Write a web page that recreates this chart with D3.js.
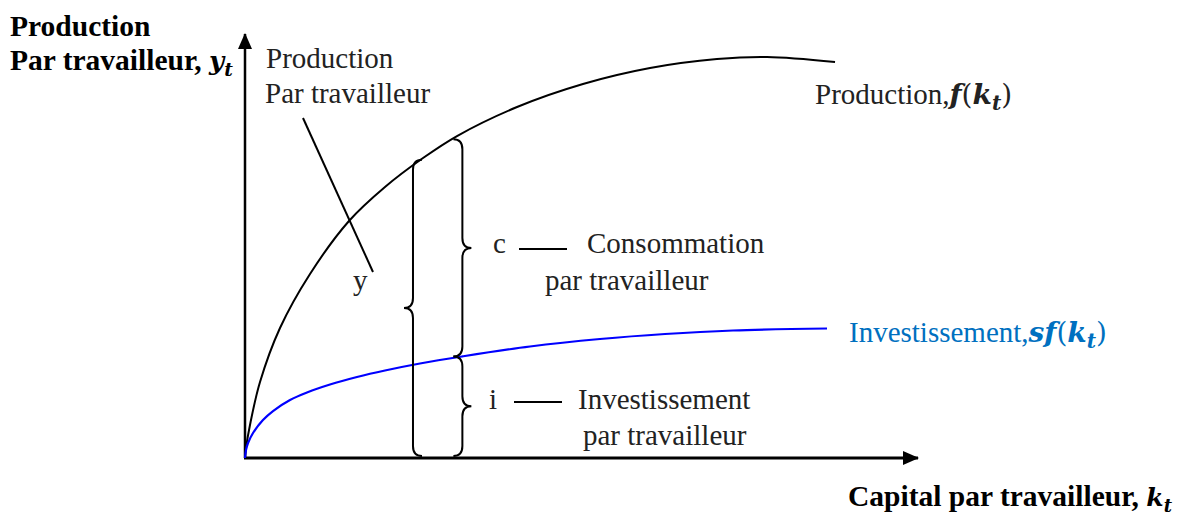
<!DOCTYPE html>
<html>
<head>
<meta charset="utf-8">
<script src="https://cdn.jsdelivr.net/npm/d3@7"></script>
<style>
  body { margin: 0; background: #fff; }
  svg text { font-family: "Liberation Serif", "Times New Roman", serif; }
</style>
</head>
<body>
<svg id="chart" width="1177" height="522"></svg>
<script>
// Production par travailleur f(k) (k and y in 0..100 units)
const prodK = [0, 0.15, 0.74, 2.23, 5.20, 9.66, 15.45, 20.80, 26.45, 31.50, 40.42, 50.22, 60.18, 70.13, 77.56, 87.67];
const prodY = [0, 2.36, 7.78, 17.92, 30.66, 43.40, 55.90, 63.92, 70.75, 75.94, 82.78, 88.21, 91.98, 94.10, 94.58, 93.40];

// Investissement sf(k)
const invK = [0, 0.15, 0.45, 1.19, 2.67, 4.16, 6.69, 9.21, 12.63, 16.64, 20.80, 26.00, 32.24, 42.35, 52.75, 62.41, 72.51, 86.48];
const invY = [0, 1.89, 3.54, 5.90, 8.96, 11.08, 13.68, 15.45, 17.33, 19.10, 20.64, 22.29, 23.94, 26.30, 28.07, 29.25, 30.07, 30.54];

// where the braces stand (k of the spine)
const braceYK = 24.96;  // y  (whole production)
const braceCIK = 32.3;  // c and i

const mathFont = "DejaVu Serif";

let svg = d3.select("#chart");

let xScale = d3.scaleLinear().domain([0, 100]).range([245, 918]);
let yScale = d3.scaleLinear().domain([0, 100]).range([458, 34]);

// linear lookup in a curve
function valueAt(ks, ys, k) {
    let i = d3.bisectLeft(ks, k);
    if (ks[i] === k) return ys[i];
    let t = (k - ks[i - 1]) / (ks[i] - ks[i - 1]);
    return ys[i - 1] + t * (ys[i] - ys[i - 1]);
}

// arrow heads
let defs = svg.append("defs");
defs.append("marker")
    .attr("id", "arrow")
    .attr("viewBox", "0 0 16 14")
    .attr("refX", 15)
    .attr("refY", 7)
    .attr("markerUnits", "userSpaceOnUse")
    .attr("markerWidth", 16)
    .attr("markerHeight", 14)
    .attr("orient", "auto")
    .append("path")
    .attr("d", "M0,0 L16,7 L0,14 Z")
    .attr("fill", "#000");

// axes
svg.append("line")
    .attr("x1", xScale(0)).attr("y1", yScale(0))
    .attr("x2", xScale(0)).attr("y2", yScale(100))
    .attr("stroke", "#000").attr("stroke-width", 2.5)
    .attr("marker-end", "url(#arrow)");

svg.append("line")
    .attr("x1", xScale(0) - 1).attr("y1", yScale(0))
    .attr("x2", xScale(100)).attr("y2", yScale(0))
    .attr("stroke", "#000").attr("stroke-width", 3)
    .attr("marker-end", "url(#arrow)");

// curves
let line = d3.line()
    .x(d => xScale(d[0]))
    .y(d => yScale(d[1]))
    .curve(d3.curveCatmullRom.alpha(0.5));

svg.append("path")
    .datum(d3.zip(prodK, prodY))
    .attr("d", line)
    .attr("fill", "none")
    .attr("stroke", "#000")
    .attr("stroke-width", 2);

svg.append("path")
    .datum(d3.zip(invK, invY))
    .attr("d", line)
    .attr("fill", "none")
    .attr("stroke", "#0000ff")
    .attr("stroke-width", 2.2);

// curly brace: dir = -1 tip to the left, +1 tip to the right
function bracePath(x, yTop, yBot, dir, w, r) {
    let ym = (yTop + yBot) / 2;
    let p = d3.path();
    p.moveTo(x - dir * w, yTop);
    p.quadraticCurveTo(x, yTop, x, yTop + r);
    p.lineTo(x, ym - r);
    p.quadraticCurveTo(x, ym, x + dir * w, ym);
    p.quadraticCurveTo(x, ym, x, ym + r);
    p.lineTo(x, yBot - r);
    p.quadraticCurveTo(x, yBot, x - dir * w, yBot);
    return p.toString();
}

const bw = 9;
let xBig = xScale(braceYK);
let xCI = xScale(braceCIK);
let yTopBig = yScale(valueAt(prodK, prodY, xScale.invert(xBig + bw)));
let yTopC = yScale(valueAt(prodK, prodY, xScale.invert(xCI - bw)));
let yInv = yScale(valueAt(invK, invY, braceCIK));
let yBase = yScale(0) - 2;

let braces = [
    {x: xBig, top: yTopBig + 1, bot: yBase, dir: -1},
    {x: xCI, top: yTopC + 1, bot: yInv, dir: 1},
    {x: xCI, top: yInv, bot: yBase, dir: 1}
];

svg.selectAll(".brace")
    .data(braces)
    .enter().append("path")
    .attr("class", "brace")
    .attr("d", d => bracePath(d.x, d.top, d.bot, d.dir, bw, 10))
    .attr("fill", "none")
    .attr("stroke", "#000")
    .attr("stroke-width", 2);

// pointer from the "Production Par travailleur" note to y
svg.append("line")
    .attr("x1", 303).attr("y1", 118)
    .attr("x2", 373).attr("y2", 272)
    .attr("stroke", "#000").attr("stroke-width", 2);

// dashes after c and i
svg.append("line")
    .attr("x1", 519).attr("y1", 249).attr("x2", 567).attr("y2", 249)
    .attr("stroke", "#000").attr("stroke-width", 2);
svg.append("line")
    .attr("x1", 514).attr("y1", 402).attr("x2", 562).attr("y2", 402)
    .attr("stroke", "#000").attr("stroke-width", 2);

// texts
function label(x, y, txt, opts) {
    opts = opts || {};
    return svg.append("text")
        .attr("x", x).attr("y", y)
        .attr("font-size", opts.size || 29)
        .attr("font-weight", opts.bold ? "bold" : "normal")
        .attr("fill", opts.color || "#222")
        .text(txt);
}

// math part like f(k_t): pieces [text, italicBold, sub, afterSub]
function mathTail(t, pieces, size) {
    pieces.forEach(p => {
        let ts = t.append("tspan")
            .text(p[0])
            .attr("font-family", mathFont)
            .attr("font-size", size)
            .attr("font-weight", p[1] ? "bold" : "normal")
            .attr("font-style", p[1] ? "italic" : "normal");
        if (p[2]) ts.attr("font-size", size * 0.72).attr("dy", 6);
        if (p[3]) ts.attr("dy", -6);
    });
}

label(10, 36, "Production", {bold: true, size: 29.5, color: "#000"});
let yl = label(10, 70, "Par travailleur, ", {bold: true, size: 29.5, color: "#000"});
mathTail(yl, [["y", true], ["t", true, true]], 26);

label(266, 68, "Production");
label(265, 103, "Par travailleur");

let pf = label(815, 104, "Production,");
mathTail(pf, [["f", true], ["(", false], ["k", true], ["t", true, true], [")", false, false, true]], 28);

let inv = label(849, 342, "Investissement,", {color: "#0070c0"});
mathTail(inv, [["sf", true], ["(", false], ["k", true], ["t", true, true], [")", false, false, true]], 28);

let cap = label(848, 506, "Capital par travailleur, ", {bold: true, size: 29.5, color: "#000"});
mathTail(cap, [["k", true], ["t", true, true]], 25);

label(353, 290, "y");
label(493, 253, "c");
label(587, 253, "Consommation");
label(545, 290, "par travailleur");
label(489, 409, "i");
label(578, 409, "Investissement");
label(583, 445, "par travailleur");
</script>
</body>
</html>
